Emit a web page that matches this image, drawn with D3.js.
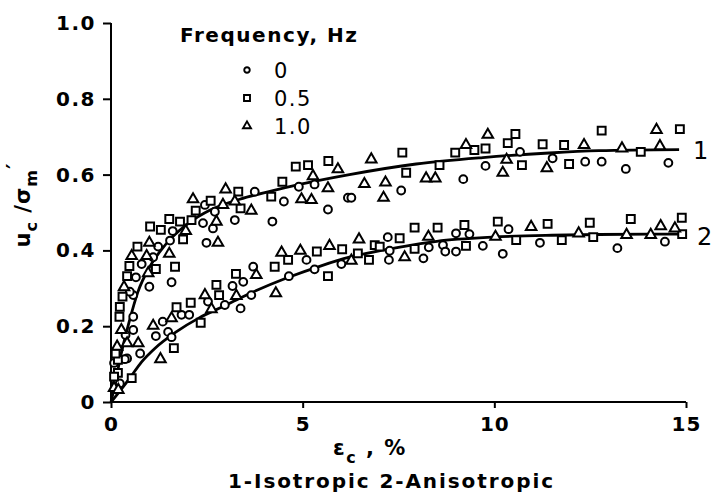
<!DOCTYPE html>
<html><head><meta charset="utf-8">
<script src="https://cdn.jsdelivr.net/npm/d3@7"></script>
<style>
html,body{margin:0;padding:0;background:#fff;}
svg{display:block;}
text{font-family:"DejaVu Sans",sans-serif;fill:#000;}
</style></head>
<body>
<svg id="chart" width="728" height="502"></svg>
<script>
// ---- data ----
const xTicks = [0, 5, 10, 15];
const yTicks = [0, 0.2, 0.4, 0.6, 0.8, 1.0];
const legendTitle = "Frequency, Hz";
const legendLabels = ["0", "0.5", "1.0"];
const curveLabels = ["1", "2"];
const caption = "1-Isotropic 2-Anisotropic";

// fitted curve 1 (isotropic) [strain %, u/sigma']
const curve1 = [[0,0],[0.1,0.045],[0.25,0.12],[0.47,0.21],[0.7,0.29],[1.0,0.355],[1.3,0.40],[1.6,0.435],[2.0,0.47],[2.6,0.507],[3.36,0.535],[4.2,0.557],[4.92,0.574],[6.22,0.60],[7.96,0.628],[9.7,0.645],[11.43,0.657],[12.73,0.663],[14.82,0.666]];
// fitted curve 2 (anisotropic)
const curve2 = [[0,0],[0.2,0.025],[0.49,0.063],[0.8,0.106],[1.15,0.142],[1.7,0.185],[2.3,0.222],[2.92,0.252],[3.4,0.276],[4.58,0.327],[5.5,0.36],[6.22,0.382],[7.5,0.408],[8.5,0.424],[9.96,0.435],[11.5,0.44],[12.73,0.442],[14.82,0.443]];

// 0 Hz (circles)
const hz0 = [[4.90,0.568],[5.31,0.574],[6.18,0.539],[5.66,0.508],[4.51,0.529],[3.75,0.555],[3.23,0.480],[4.21,0.476],[2.45,0.520],[2.71,0.502],[2.40,0.472],[2.66,0.458],[1.61,0.451],[1.54,0.426],[2.49,0.420],[1.23,0.410],[0.80,0.364],[1.10,0.382],[0.65,0.329],[1.58,0.316],[1.00,0.304],[0.58,0.282],[0.58,0.225],[0.58,0.190],[0.42,0.115],[0.38,0.177],[0.15,0.049],[0.08,0.103],[0.49,0.291],
 [9.77,0.623],[11.52,0.643],[12.37,0.634],[9.19,0.588],[7.57,0.558],[6.27,0.539],[10.67,0.660],[12.80,0.634],[13.43,0.615],[14.54,0.631],
 [7.22,0.435],[9.00,0.445],[9.35,0.443],[10.37,0.456],[11.19,0.420],[7.27,0.399],[7.25,0.375],[8.15,0.379],[8.29,0.408],[8.66,0.414],[8.72,0.397],[9.00,0.397],[9.70,0.412],[10.22,0.391],[13.21,0.406],[14.45,0.423],[5.10,0.375],[5.31,0.350],[6.01,0.364],[4.64,0.332],[3.71,0.357],[3.45,0.317],[3.17,0.306],[3.66,0.282],[2.53,0.265],[2.97,0.256],[3.38,0.247],[1.84,0.230],[2.04,0.230],[1.35,0.212],[1.17,0.174],[1.49,0.185],[1.58,0.171],[0.76,0.128],[0.36,0.113],[0.23,0.049]];
// 0.5 Hz (squares)
const hz05 = [[4.82,0.621],[5.14,0.625],[5.67,0.636],[4.47,0.581],[4.18,0.542],[3.32,0.555],[3.38,0.511],[2.60,0.531],[2.21,0.505],[2.10,0.480],[1.80,0.476],[1.52,0.483],[1.02,0.463],[1.30,0.454],[1.88,0.429],[0.69,0.410],[0.48,0.359],[1.17,0.351],[1.67,0.357],[0.42,0.332],[0.30,0.278],[0.23,0.251],[0.22,0.225],[0.18,0.111],[0.18,0.077],[0.12,0.128],[0.08,0.067],
 [7.60,0.658],[8.98,0.658],[8.57,0.625],[7.70,0.605],[10.72,0.625],[11.95,0.628],[10.55,0.707],[10.35,0.683],[9.48,0.665],[9.77,0.669],[11.26,0.680],[11.82,0.678],[12.80,0.716],[14.84,0.720],[13.82,0.660],
 [6.88,0.414],[7.53,0.432],[7.92,0.460],[8.52,0.460],[9.22,0.467],[10.09,0.476],[11.39,0.470],[10.57,0.427],[11.76,0.427],[12.58,0.435],[12.49,0.473],[6.44,0.392],[6.73,0.375],[7.01,0.410],[7.92,0.404],[9.26,0.412],[13.56,0.483],[14.89,0.486],[14.90,0.443],[4.62,0.375],[5.37,0.397],[6.03,0.403],[4.27,0.357],[5.66,0.332],[3.26,0.338],[2.75,0.309],[2.82,0.282],[1.71,0.250],[2.08,0.262],[2.34,0.209],[1.64,0.142],[0.54,0.063]];
// 1.0 Hz (triangles)
const hz1 = [[5.92,0.614],[5.27,0.596],[5.66,0.564],[4.97,0.535],[5.23,0.533],[2.99,0.561],[3.66,0.505],[2.14,0.535],[2.92,0.520],[3.23,0.529],[2.75,0.476],[1.95,0.451],[2.79,0.420],[1.00,0.420],[0.54,0.385],[0.93,0.385],[1.52,0.391],[0.97,0.340],[0.34,0.303],[0.42,0.155],[0.27,0.190],[0.16,0.146],[0.08,0.037],
 [6.79,0.640],[10.32,0.639],[10.22,0.605],[11.37,0.617],[8.22,0.590],[8.46,0.590],[6.61,0.575],[7.16,0.579],[7.11,0.539],[9.83,0.705],[9.26,0.678],[14.23,0.718],[12.34,0.678],[13.33,0.669],[14.32,0.675],
 [6.47,0.429],[8.28,0.436],[10.96,0.462],[10.03,0.436],[12.20,0.445],[6.27,0.373],[7.66,0.382],[14.34,0.464],[14.71,0.458],[13.45,0.441],[14.08,0.441],[4.45,0.394],[4.94,0.399],[5.70,0.412],[3.79,0.335],[2.45,0.282],[3.27,0.280],[4.30,0.287],[2.62,0.245],[1.58,0.221],[1.10,0.201],[1.29,0.113],[0.71,0.155],[0.19,0.032]];

// ---- drawing ----
const svg = d3.select("#chart");
const x = d3.scaleLinear().domain([0, 15]).range([111, 686]);
const y = d3.scaleLinear().domain([0, 1]).range([402, 23]);

const yAxis = d3.axisLeft(y).tickValues(yTicks).tickSize(8).tickPadding(7)
  .tickFormat(d => d === 0 ? "0" : d3.format(".1f")(d));
const xAxis = d3.axisBottom(x).tickValues(xTicks).tickSize(6).tickPadding(9)
  .tickFormat(d3.format("d"));

const gy = svg.append("g").attr("transform", `translate(${x(0)},0)`).call(yAxis);
const gx = svg.append("g").attr("transform", `translate(0,${y(0)})`).call(xAxis);
[gx, gy].forEach(g => {
  g.selectAll("path.domain").attr("stroke", "#000").attr("stroke-width", 2);
  g.selectAll(".tick line").attr("stroke", "#000").attr("stroke-width", 2);
  g.selectAll(".tick text").attr("fill", "#000")
    .style("font-family", "'DejaVu Sans',sans-serif").style("font-size", "20px").style("font-weight", "bold");
});
gy.selectAll(".tick text").style("letter-spacing", "1.5px");
gx.selectAll(".tick text").style("letter-spacing", "1px");
gy.select("path.domain").attr("d", `M0,${y(1)}V${y(0)}`);
gx.select("path.domain").attr("d", `M${x(0)},0H${x(15)}`);

// curves
const line = d3.line().x(d => x(d[0])).y(d => y(d[1])).curve(d3.curveMonotoneX);
[curve1, curve2].forEach(c => {
  svg.append("path").attr("d", line(c)).attr("fill", "none")
    .attr("stroke", "#000").attr("stroke-width", 2.8);
});

// markers
const sym = {
  c: d3.symbol(d3.symbolCircle, 48),
  s: d3.symbol(d3.symbolSquare, 62),
  t: d3.symbol(d3.symbolTriangle, 48)
};
function drawPts(data, s) {
  svg.append("g").selectAll("path").data(data).join("path")
    .attr("d", sym[s]())
    .attr("transform", d => `translate(${x(d[0])},${y(d[1])})`)
    .attr("fill", "#fff").attr("stroke", "#000").attr("stroke-width", 2);
}
drawPts(hz0, "c");
drawPts(hz05, "s");
drawPts(hz1, "t");

// legend
svg.append("text").attr("x", 180).attr("y", 42).text(legendTitle)
  .attr("textLength", 177).attr("lengthAdjust", "spacing")
  .style("font-size", "20px").style("font-weight", "bold");
const legSym = [d3.symbol(d3.symbolCircle, 24), d3.symbol(d3.symbolSquare, 36), d3.symbol(d3.symbolTriangle, 28)];
legendLabels.forEach((lab, i) => {
  const cy = 70 + i * 28;
  svg.append("path").attr("d", legSym[i]()).attr("transform", `translate(247,${cy})`)
    .attr("fill", "#fff").attr("stroke", "#000").attr("stroke-width", 1.9);
  svg.append("text").attr("x", 274).attr("y", cy + 8).text(lab)
    .style("font-size", "21px").style("letter-spacing", "1.5px");
});

// curve labels
svg.append("text").attr("x", 693).attr("y", 159).text(curveLabels[0]).style("font-size", "24px");
svg.append("text").attr("x", 697).attr("y", 245).text(curveLabels[1]).style("font-size", "24px");

// y-axis title (rotated)
const yt = svg.append("text").attr("transform", "translate(30,205) rotate(-90)")
  .attr("text-anchor", "middle").style("font-size", "21px").style("font-weight", "bold")
  .style("letter-spacing", "1px");
yt.append("tspan").text("u");
yt.append("tspan").attr("dy", 7).style("font-size", "16px").text("c");
yt.append("tspan").attr("dy", -7).text(" /σ");
yt.append("tspan").attr("dy", 7).style("font-size", "16px").text("m");
yt.append("tspan").attr("dy", -15).text("′");

// x-axis title
const xt = svg.append("text").attr("x", 333).attr("y", 455).style("font-size", "21px").style("font-weight", "bold")
  .style("letter-spacing", "1.5px");
xt.append("tspan").text("ε");
xt.append("tspan").attr("dy", 8).style("font-size", "16px").text("c");
xt.append("tspan").attr("dy", -8).text(" , %");

// caption
svg.append("text").attr("x", 228).attr("y", 488)
  .attr("textLength", 325).attr("lengthAdjust", "spacing")
  .style("font-size", "20px").style("font-weight", "bold").text(caption);
</script>
</body></html>
